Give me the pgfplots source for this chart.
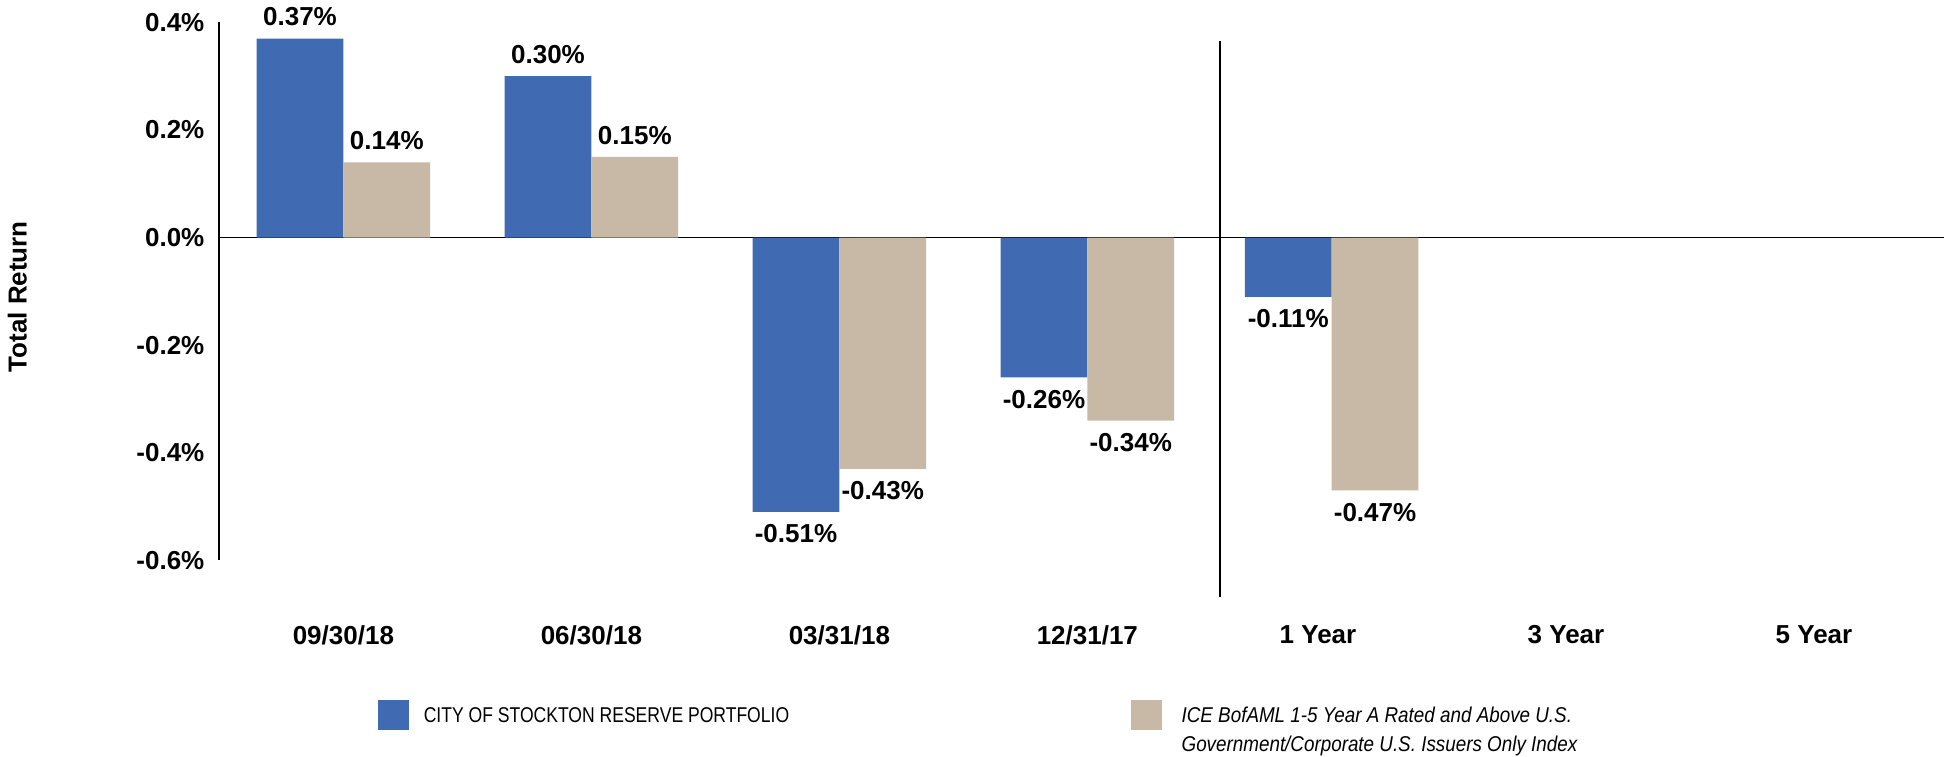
\documentclass[border=0pt]{standalone}
\usepackage{pgfplots}
\pgfplotsset{compat=1.18}
\usepackage{fontspec}
\setmainfont{Liberation Sans}
\newfontfamily\narrowfont[FakeStretch=0.82]{Liberation Sans}
\newfontfamily\narrowitfont[FakeStretch=0.88]{Liberation Sans Italic}
\definecolor{cblue}{RGB}{64,106,178}
\definecolor{ctan}{RGB}{199,185,165}
\begin{document}
\begin{tikzpicture}
\begin{axis}[
  scale only axis, width=863pt, height=269pt,
  xmin=-0.5, xmax=6.46, ymin=-0.6, ymax=0.4,
  axis y line=left, axis x line*=bottom,
  axis line style={-},
  y axis line style={line width=1pt},
  x axis line style={draw=none},
  major tick length=0pt,
  ybar=0pt, bar width=43.4pt,
  xtick={0,1,2,3,3.93,4.93,5.93},
  xticklabels={09/30/18,06/30/18,03/31/18,12/31/17,1 Year,3 Year,5 Year},
  ytick={-0.6,-0.4,-0.2,0,0.2,0.4},
  yticklabels={-0.6\%,-0.4\%,-0.2\%,0.0\%,0.2\%,0.4\%},
  /pgf/number format/assume math mode=true,
  tick label style={font=\bfseries\fontsize{13}{15}\selectfont},
  xticklabel style={yshift=-29pt},
  yticklabel style={xshift=-4pt},
  ylabel={Total Return},
  ylabel style={font=\bfseries\fontsize{13}{15}\selectfont, at={(axis description cs:-0.117,0.49)}, anchor=center},
  point meta=y,
  nodes near coords={\pgfmathprintnumber[fixed,fixed zerofill,precision=2,assume math mode=true]{\pgfplotspointmeta}\%},
  nodes near coords style={font=\bfseries\fontsize{13}{15}\selectfont, inner ysep=6pt},
  clip=false,
  legend columns=2,
  legend image code/.code={\fill[#1] (0pt,-3.7pt) rectangle (15.5pt,11.3pt); \path (20.7pt,0pt);},
  legend style={draw=none, fill=none, at={(axis description cs:0.0919,-0.2558)}, anchor=north west, inner sep=0pt,
    cells={anchor=base west}, font=\narrowfont\fontsize{10.7}{14.3}\selectfont},
]
\draw[line width=0.8pt] (axis cs:-0.5,0) -- (axis cs:6.46,0);
\addplot[fill=cblue, draw=none] coordinates {
  (0,0.37) (1,0.30) (2,-0.51) (3,-0.26) (3.985,-0.11)
};
\addplot[fill=ctan, draw=none] coordinates {
  (0,0.14) (1,0.15) (2,-0.43) (3,-0.34) (3.985,-0.47)
};
\draw[line width=1.2pt] (axis cs:3.535,0.366) -- (axis cs:3.535,-0.668);
\coordinate (O) at (rel axis cs:0,0);
\legend{\makebox[351.7pt][l]{CITY OF STOCKTON RESERVE PORTFOLIO},{\narrowitfont\hspace{2.5pt}\begin{tabular}[t]{@{}l@{}}ICE BofAML 1-5 Year A Rated and Above U.S.\\Government/Corporate U.S. Issuers Only Index\end{tabular}}}
\end{axis}
\pgfresetboundingbox
\path[use as bounding box] (O) ++(-109.7pt,-97.8pt) rectangle ++(972pt,378pt);
\end{tikzpicture}
\end{document}
